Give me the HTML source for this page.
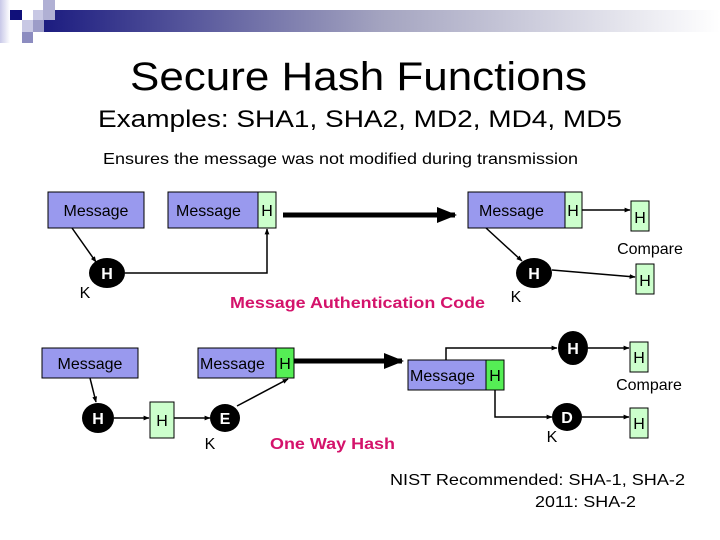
<!DOCTYPE html>
<html><head><meta charset="utf-8"><style>
html,body{margin:0;padding:0;background:#fff;}
svg{display:block;}
text{font-family:"Liberation Sans",Arial,sans-serif;}
</style></head><body>
<svg width="720" height="540" viewBox="0 0 720 540" xmlns="http://www.w3.org/2000/svg">
<defs>
<linearGradient id="bar" x1="0" x2="1" y1="0" y2="0">
<stop offset="0" stop-color="#1c1c80"/>
<stop offset="0.5" stop-color="#a4a4c0"/>
<stop offset="1" stop-color="#ffffff"/>
</linearGradient>
<linearGradient id="lft" x1="0" x2="1"><stop offset="0" stop-color="#c8c8e8"/><stop offset="1" stop-color="#fff"/></linearGradient>
<marker id="a" viewBox="0 0 10 10" refX="9" refY="5" markerWidth="6" markerHeight="6" orient="auto" markerUnits="userSpaceOnUse"><path d="M0,1 L10,5 L0,9 z" fill="#000"/></marker>
<marker id="b" viewBox="0 0 10 10" refX="9" refY="5" markerWidth="20" markerHeight="16" orient="auto" markerUnits="userSpaceOnUse" preserveAspectRatio="none"><path d="M0,0 L10,5 L0,10 z" fill="#000"/></marker>
</defs>
<!-- header -->
<rect x="44" y="10" width="676" height="22" fill="url(#bar)"/>
<rect x="0" y="0" width="10" height="43" fill="url(#lft)"/>
<rect x="10" y="10" width="12" height="10" fill="#10107a"/>
<rect x="33" y="10" width="10" height="10" fill="#c8c8e4"/>
<rect x="43" y="0" width="12" height="20" fill="#b0b0d4"/>
<rect x="22" y="20" width="11" height="12" fill="#c8c8e4"/>
<rect x="33" y="20" width="11" height="12" fill="#9c9cc8"/>
<rect x="22" y="32" width="11" height="11" fill="#8c8cc0"/>
<!-- titles -->
<text x="130" y="90" font-size="40" textLength="457" lengthAdjust="spacingAndGlyphs">Secure Hash Functions</text>
<text x="98" y="127" font-size="24" textLength="524" lengthAdjust="spacingAndGlyphs">Examples: SHA1, SHA2, MD2, MD4, MD5</text>
<text x="103" y="164" font-size="16" textLength="475" lengthAdjust="spacingAndGlyphs">Ensures the message was not modified during transmission</text>

<g stroke="#000" stroke-width="1">
<!-- MAC row -->
<rect x="48" y="192" width="96" height="36" fill="#9999ee"/>
<rect x="168" y="192" width="90" height="36" fill="#9999ee"/>
<rect x="258" y="192" width="18" height="36" fill="#ccffcc"/>
<rect x="468" y="192" width="97" height="36" fill="#9999ee"/>
<rect x="565" y="192" width="17" height="36" fill="#ccffcc"/>
<rect x="631" y="201" width="18" height="30" fill="#ccffcc"/>
<rect x="636" y="264" width="18" height="30" fill="#ccffcc"/>
</g>
<line x1="283" y1="215" x2="455" y2="215" stroke="#000" stroke-width="5" marker-end="url(#b)"/>
<g stroke="#000" stroke-width="1.5" fill="none">
<line x1="72" y1="228" x2="96" y2="262" marker-end="url(#a)"/>
<polyline points="125,273 267,273 267,229" marker-end="url(#a)"/>
<line x1="582" y1="210" x2="630" y2="210" marker-end="url(#a)"/>
<line x1="486" y1="228" x2="522" y2="261" marker-end="url(#a)"/>
<line x1="552" y1="270" x2="635" y2="277" marker-end="url(#a)"/>
</g>
<ellipse cx="107" cy="273" rx="18" ry="15" fill="#000"/>
<ellipse cx="534" cy="273" rx="18" ry="15" fill="#000"/>
<g font-size="16" fill="#000">
<text x="96" y="216" text-anchor="middle">Message</text>
<text x="176" y="216">Message</text>
<text x="267" y="216" text-anchor="middle">H</text>
<text x="479" y="216">Message</text>
<text x="573" y="216" text-anchor="middle">H</text>
<text x="640" y="223" text-anchor="middle">H</text>
<text x="645" y="286" text-anchor="middle">H</text>
<text x="650" y="254" text-anchor="middle">Compare</text>
<text x="85" y="298" text-anchor="middle">K</text>
<text x="516" y="302" text-anchor="middle">K</text>
</g>
<text x="107" y="279" font-size="16" fill="#fff" text-anchor="middle" font-weight="bold">H</text>
<text x="534" y="279" font-size="16" fill="#fff" text-anchor="middle" font-weight="bold">H</text>
<text x="230" y="308" font-size="16" font-weight="bold" fill="#d4136b" textLength="255" lengthAdjust="spacingAndGlyphs">Message Authentication Code</text>

<!-- One way hash row -->
<g stroke="#000" stroke-width="1">
<rect x="42" y="348" width="96" height="30" fill="#9999ee"/>
<rect x="150" y="402" width="24" height="36" fill="#ccffcc"/>
<rect x="198" y="348" width="78" height="30" fill="#9999ee"/>
<rect x="276" y="348" width="18" height="30" fill="#55ee55"/>
<rect x="408" y="360" width="78" height="30" fill="#9999ee"/>
<rect x="486" y="360" width="18" height="30" fill="#55ee55"/>
<rect x="630" y="342" width="18" height="30" fill="#ccffcc"/>
<rect x="630" y="408" width="18" height="30" fill="#ccffcc"/>
</g>
<line x1="294" y1="361" x2="402" y2="361" stroke="#000" stroke-width="5" marker-end="url(#b)"/>
<g stroke="#000" stroke-width="1.5" fill="none">
<line x1="90" y1="378" x2="96" y2="402" marker-end="url(#a)"/>
<line x1="114" y1="418" x2="149" y2="418" marker-end="url(#a)"/>
<line x1="174" y1="418" x2="210" y2="418" marker-end="url(#a)"/>
<line x1="237" y1="406" x2="288" y2="379" marker-end="url(#a)"/>
<polyline points="446,360 446,348 557,348" marker-end="url(#a)"/>
<line x1="588" y1="348" x2="629" y2="348" marker-end="url(#a)"/>
<polyline points="495,390 495,417 552,417" marker-end="url(#a)"/>
<line x1="582" y1="417" x2="629" y2="417" marker-end="url(#a)"/>
</g>
<ellipse cx="98" cy="418" rx="16" ry="15" fill="#000"/>
<ellipse cx="225" cy="418" rx="15" ry="14" fill="#000"/>
<ellipse cx="573" cy="348" rx="15" ry="17" fill="#000"/>
<ellipse cx="567" cy="417" rx="15" ry="14" fill="#000"/>
<g font-size="16" fill="#000">
<text x="90" y="369" text-anchor="middle">Message</text>
<text x="200" y="369">Message</text>
<text x="285" y="369" text-anchor="middle">H</text>
<text x="410" y="381">Message</text>
<text x="495" y="381" text-anchor="middle">H</text>
<text x="162" y="426" text-anchor="middle">H</text>
<text x="639" y="363" text-anchor="middle">H</text>
<text x="639" y="429" text-anchor="middle">H</text>
<text x="649" y="390" text-anchor="middle">Compare</text>
<text x="210" y="449" text-anchor="middle">K</text>
<text x="552" y="442" text-anchor="middle">K</text>
</g>
<g font-size="16" fill="#fff" font-weight="bold" text-anchor="middle">
<text x="98" y="424">H</text>
<text x="225" y="424">E</text>
<text x="573" y="354">H</text>
<text x="567" y="423">D</text>
</g>
<text x="270" y="449" font-size="16" font-weight="bold" fill="#d4136b" textLength="125" lengthAdjust="spacingAndGlyphs">One Way Hash</text>
<text x="390" y="485" font-size="16" textLength="295" lengthAdjust="spacingAndGlyphs">NIST Recommended: SHA-1, SHA-2</text>
<text x="535" y="507" font-size="16" textLength="101" lengthAdjust="spacingAndGlyphs">2011: SHA-2</text>
</svg>
</body></html>
